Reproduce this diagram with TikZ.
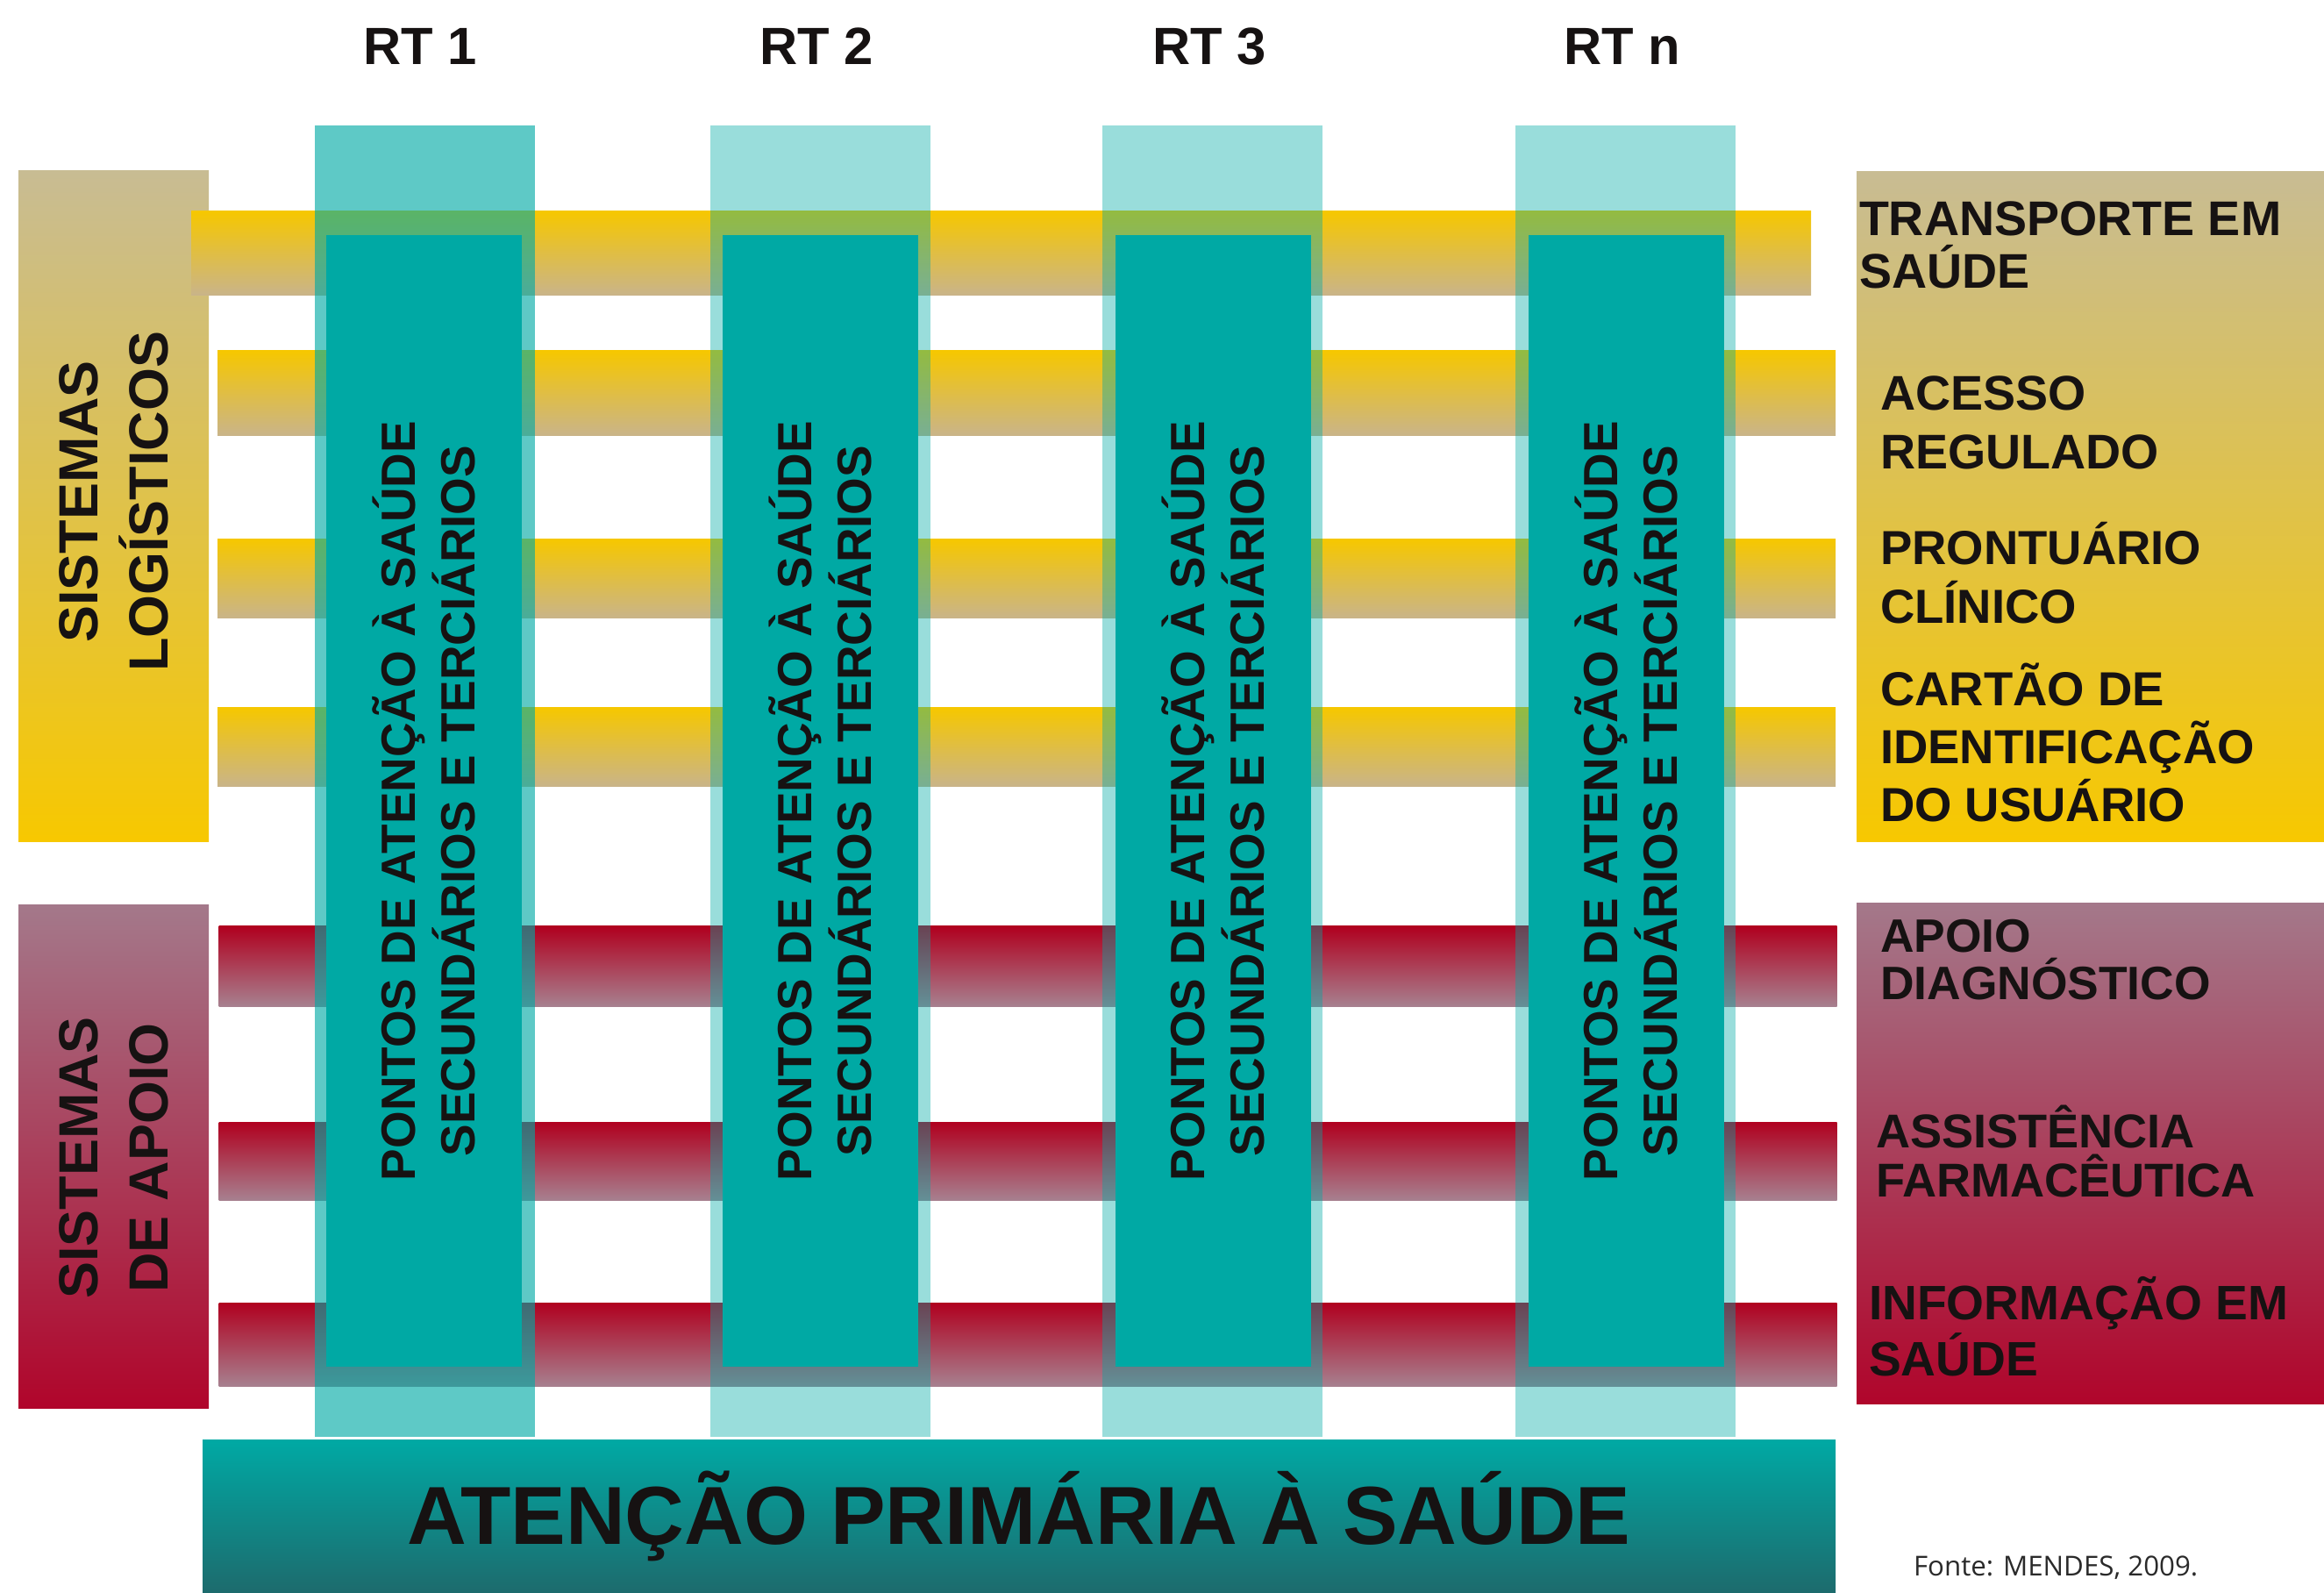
\documentclass[tikz,border=0pt]{standalone}
\usepackage{fontspec}
\setmainfont{Liberation Sans}
\newfontfamily\fontefont{Open Sans}

\definecolor{barYellow}{HTML}{F6C700}
\definecolor{barTan}{HTML}{C9B48A}
\definecolor{boxTan}{HTML}{C8BC93}
\definecolor{boxYellow}{HTML}{F7C800}
\definecolor{barRed}{HTML}{B0001F}
\definecolor{barMauve}{HTML}{A7808F}
\definecolor{boxMauve}{HTML}{A4788A}
\definecolor{boxRed}{HTML}{B0052B}
\definecolor{tealBase}{HTML}{00A9A4}
\definecolor{tealDark}{HTML}{1D6B6D}
\definecolor{ink}{HTML}{161212}
\definecolor{fonteGray}{HTML}{2A2A2A}

\begin{document}
\begin{tikzpicture}[
        every node/.style={inner sep=0pt, outer sep=0pt},
        yelbar/.style={top color=barYellow, bottom color=barTan, minimum width=18.45cm, minimum height=#1},
        redbar/.style={top color=barRed, bottom color=barMauve, minimum width=18.45cm, minimum height=#1},
        logbox/.style={top color=boxTan, bottom color=boxYellow},
        apoiobox/.style={top color=boxMauve, bottom color=boxRed},
        outercol/.style={fill=tealBase, fill opacity=#1, minimum width=2.51cm, minimum height=14.95cm},
        innercol/.style={fill=tealBase, rotate=90, minimum width=12.9cm, minimum height=2.23cm,
            align=center, text=ink, font=\bfseries\fontsize{15.6}{19.3}\selectfont},
        rtlabel/.style={anchor=base, text=ink, font=\bfseries\fontsize{17}{20}\selectfont},
        sidelabel/.style={rotate=90, align=center, text=ink, font=\bfseries\fontsize{17.9}{22.8}\selectfont},
        rlabel/.style 2 args={anchor=base west, align=left, text=ink, font=\bfseries\fontsize{#1}{#2}\selectfont}
    ]
    \useasboundingbox (0, 0) rectangle (26.5, 18.15);

    % side boxes
    \node[logbox, minimum width=2.17cm, minimum height=7.65cm] (logL) at (1.295, 12.375) {};
    \node[apoiobox, minimum width=2.17cm, minimum height=5.73cm] (apoioL) at (1.295, 4.965) {};
    \node[logbox, minimum width=5.33cm, minimum height=7.64cm] (logR) at (23.835, 12.37) {};
    \node[apoiobox, minimum width=5.33cm, minimum height=5.70cm] (apoioR) at (23.835, 5.00) {};

    % horizontal bars
    \node[yelbar=0.96cm, minimum width=18.47cm] (transp) at (11.415, 15.26) {};
    \node[yelbar=0.97cm] (acesso) at (11.705, 13.665) {};
    \node[yelbar=0.90cm] (pront) at (11.705, 11.55) {};
    \node[yelbar=0.90cm] (cartao) at (11.705, 9.63) {};
    \node[redbar=0.91cm] (diag) at (11.72, 7.135) {};
    \node[redbar=0.89cm] (farma) at (11.72, 4.915) {};
    \node[redbar=0.95cm] (info) at (11.72, 2.825) {};

    % redes tematicas
    \node[outercol=0.63] (rt1) at (4.845, 9.245) {};
    \node[outercol=0.4] (rt2) at (9.35, 9.245) {};
    \node[outercol=0.4] (rt3) at (13.825, 9.245) {};
    \node[outercol=0.4] (rtn) at (18.535, 9.245) {};
    \node[innercol] (pontos1) at (4.83, 9.02) {PONTOS DE ATENÇÃO À SAÚDE\\SECUNDÁRIOS E TERCIÁRIOS};
    \node[innercol] (pontos2) at (9.35, 9.02) {PONTOS DE ATENÇÃO À SAÚDE\\SECUNDÁRIOS E TERCIÁRIOS};
    \node[innercol] (pontos3) at (13.835, 9.02) {PONTOS DE ATENÇÃO À SAÚDE\\SECUNDÁRIOS E TERCIÁRIOS};
    \node[innercol] (pontosn) at (18.545, 9.02) {PONTOS DE ATENÇÃO À SAÚDE\\SECUNDÁRIOS E TERCIÁRIOS};

    \node[top color=tealBase, bottom color=tealDark, minimum width=18.62cm, minimum height=1.74cm,
        text=ink, font=\bfseries\fontsize{26.7}{30}\selectfont] (aps) at (11.62, 0.87) {ATENÇÃO PRIMÁRIA À SAÚDE};

    % labels
    \node[rtlabel] (lbl1) at (4.79, 17.41) {RT 1};
    \node[rtlabel] (lbl2) at (9.31, 17.41) {RT 2};
    \node[rtlabel] (lbl3) at (13.79, 17.41) {RT 3};
    \node[rtlabel] (lbln) at (18.50, 17.41) {RT n};

    \node[sidelabel] (sislog) at (1.30, 12.43) {SISTEMAS\\LOGÍSTICOS};
    \node[sidelabel] (sisapoio) at (1.30, 4.95) {SISTEMAS\\DE APOIO};

    % base = last line
    \node[rlabel={15.8}{17.1}] (ltransp) at (21.20, 14.86) {TRANSPORTE EM\\SAÚDE};
    \node[rlabel={15.8}{19.3}] (lacesso) at (21.44, 12.80) {ACESSO\\REGULADO};
    \node[rlabel={15.5}{19.1}] (lpront) at (21.44, 11.04) {PRONTUÁRIO\\CLÍNICO};
    \node[rlabel={15.5}{18.9}] (lcartao) at (21.44, 8.78) {CARTÃO DE\\IDENTIFICAÇÃO\\DO USUÁRIO};
    \node[rlabel={15.2}{15.1}] (ldiag) at (21.44, 6.76) {APOIO\\DIAGNÓSTICO};
    \node[rlabel={15.4}{15.9}] (lfarma) at (21.39, 4.51) {ASSISTÊNCIA\\FARMACÊUTICA};
    \node[rlabel={15.7}{15.1}] (linfo) at (21.31, 2.47) {INFORMAÇÃO EM\\SAÚDE};

    \node[anchor=base west, text=fonteGray, font=\fontefont\fontsize{8.9}{10}\selectfont] (fonte) at (21.82, 0.19) {Fonte: MENDES, 2009.};
\end{tikzpicture}
\end{document}
